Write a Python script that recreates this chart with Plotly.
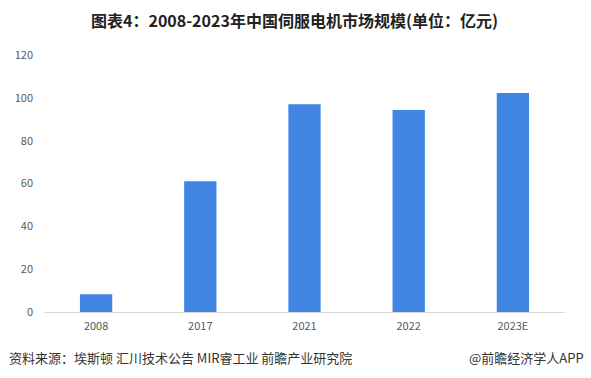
import plotly.graph_objects as go

categories = ["2008", "2017", "2021", "2022", "2023E"]
values = [8.3, 61.0, 97.0, 94.3, 102.2]
y_ticks = [0, 20, 40, 60, 80, 100, 120]

title_text = "图表4：2008-2023年中国伺服电机市场规模(单位：亿元)"
source_text = "资料来源：埃斯顿 汇川技术公告 MIR睿工业 前瞻产业研究院"
brand_text = "@前瞻经济学人APP"

fig = go.Figure()
fig.add_trace(go.Bar(
    x=categories, y=values,
    marker=dict(color="#4286E3", line=dict(width=0)),
    width=0.31,
    hoverinfo="x+y",
))

fig.update_layout(
    width=591, height=378,
    margin=dict(l=44, r=26, t=55, b=66),
    paper_bgcolor="white", plot_bgcolor="white",
    showlegend=False,
    font=dict(family="Noto Sans CJK SC, Noto Sans, sans-serif", size=11, color="#595959"),
    xaxis=dict(
        type="category",
        showgrid=False, zeroline=False,
        showline=True, linecolor="#D9D9D9", linewidth=1,
        ticks="", tickfont=dict(size=11, color="#595959"),
        ticklabelstandoff=4,
    ),
    yaxis=dict(
        range=[0, 120], tickvals=y_ticks,
        showgrid=False, zeroline=False, showline=False,
        ticks="", tickfont=dict(size=11, color="#595959"),
        ticklabelstandoff=10,
    ),
    annotations=[
        dict(text="<b>" + title_text + "</b>", xref="paper", yref="paper",
             x=(294.5 - 44) / 521, y=1, yshift=35, xanchor="center", yanchor="middle",
             showarrow=False, font=dict(size=16, color="#222222")),
        dict(text=source_text, xref="paper", yref="paper", xanchor="left", yanchor="middle",
             x=-37/521, y=0, yshift=-45, showarrow=False,
             font=dict(size=13, color="#333333")),
        dict(text=brand_text, xref="paper", yref="paper", xanchor="right", yanchor="middle",
             x=1 + 21/521, y=0, yshift=-45, showarrow=False,
             font=dict(size=13, color="#333333")),
    ],
)

fig.write_html("out.html", config={"displayModeBar": False},
               post_script="document.body.style.margin='0';")
